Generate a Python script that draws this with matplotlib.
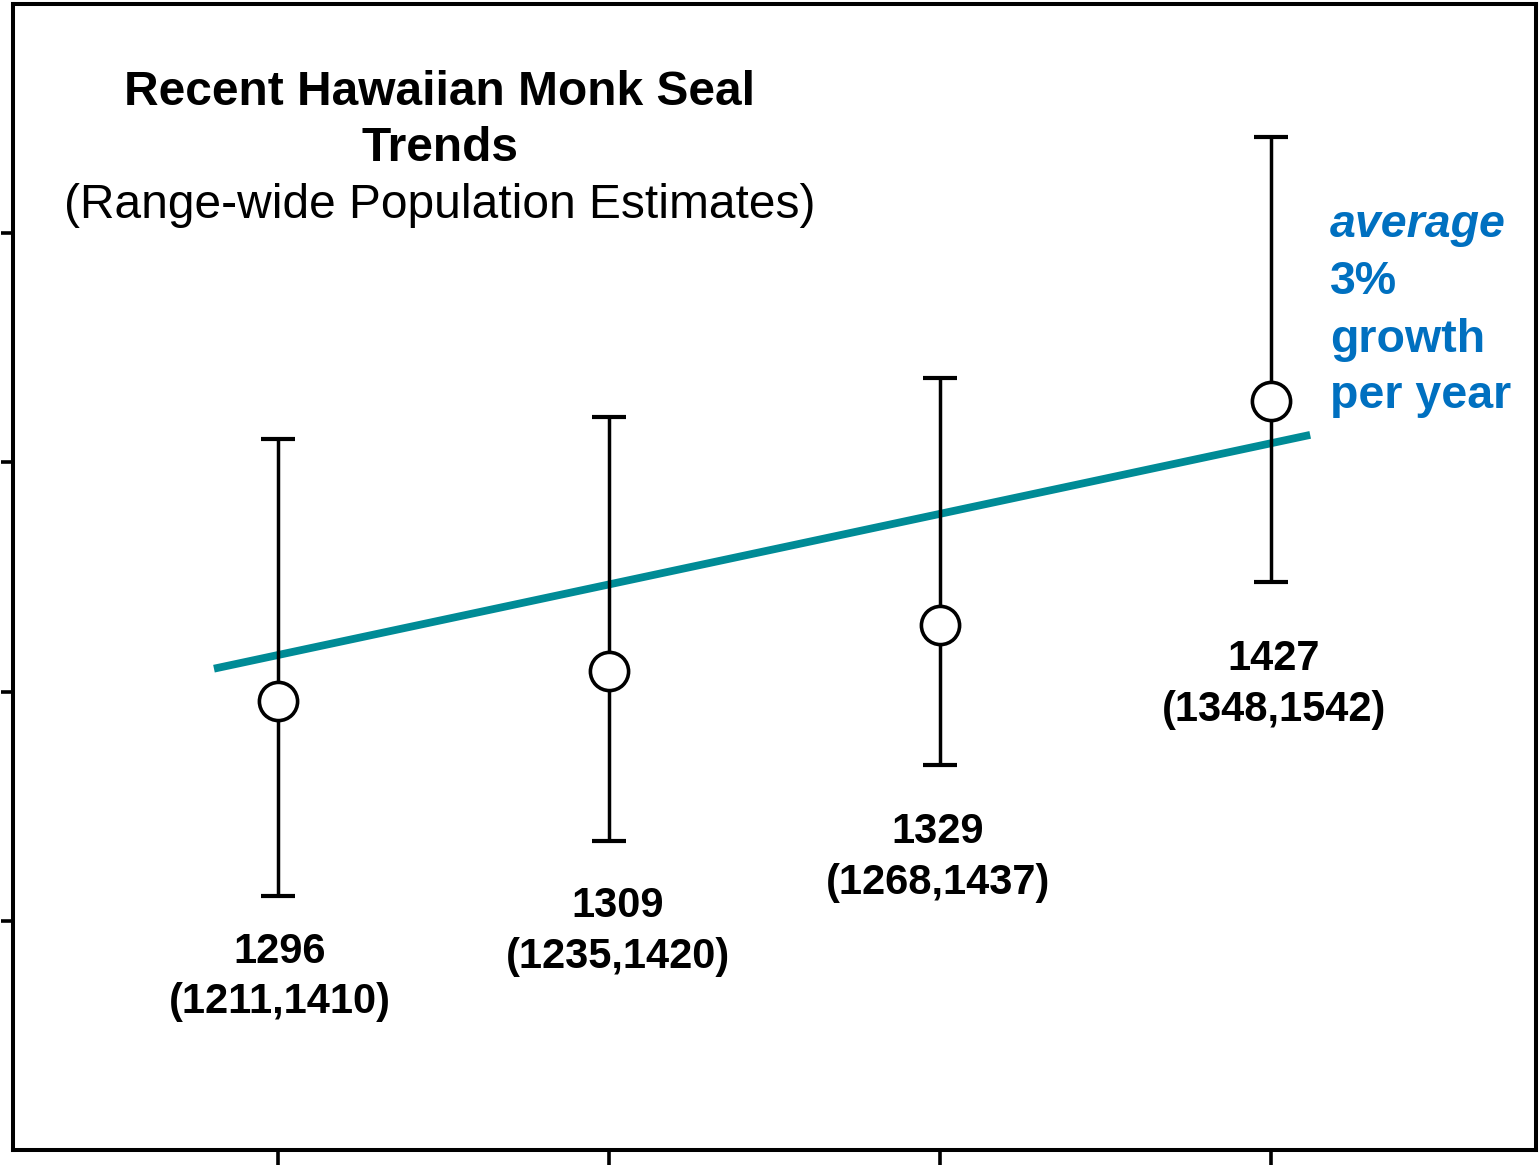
import numpy as np
import matplotlib
matplotlib.use("Agg")
import matplotlib.pyplot as plt

# population estimates with 95% intervals
estimate = [1296, 1309, 1329, 1427]
lower = [1211, 1235, 1268, 1348]
upper = [1410, 1420, 1437, 1542]

# fitted trend line (end points)
trend_x = [-0.193, 3.118]
trend_y = [1310, 1412]

# label placement
label_x = [0.006, 1.027, 1.994, 3.009]
label_y = [1175.5, 1195.5, 1227.5, 1303]

x = np.arange(len(estimate))
est = np.array(estimate)
yerr = [est - np.array(lower), np.array(upper) - est]

plt.rcParams['font.family'] = ['Liberation Sans', 'DejaVu Sans']

fig = plt.figure(figsize=(15.4, 11.72), dpi=100)
ax = fig.add_axes([13 / 1540, 22 / 1172, 1523 / 1540, 1146 / 1172])

ax.plot(trend_x, trend_y, '-', color='#008B96', lw=5.6, solid_capstyle='butt', zorder=2)
ax.errorbar(x, est, yerr=yerr, fmt='none', ecolor='black', elinewidth=2.5,
            capsize=12.5, capthick=3, zorder=3)
ax.plot(x, est, 'o', ms=27.5, mfc='white', mec='black', mew=2.6, zorder=4)

for i in range(len(estimate)):
    ax.text(label_x[i], label_y[i], "%d\n(%d,%d)" % (estimate[i], lower[i], upper[i]),
            ha='center', va='center', fontsize=30, fontweight='bold',
            linespacing=1.35, zorder=5)

ax.set_xlim(-0.8, 3.8)
ax.set_ylim(1100, 1600)
ax.set_xticks(x)
ax.set_yticks([1200, 1300, 1400, 1500])
ax.set_xticklabels([])
ax.set_yticklabels([])
ax.tick_params(axis='x', direction='out', length=11, width=2.6)
ax.tick_params(axis='y', direction='out', length=9, width=2.6)
for s in ax.spines.values():
    s.set_linewidth(2.9)

# title block
tx = (440 - 13) / 1523
ax.text(tx, (1150 - 105) / 1146, "Recent Hawaiian Monk Seal", transform=ax.transAxes,
        ha='center', va='baseline', fontsize=34.5, fontweight='bold')
ax.text(tx, (1150 - 161) / 1146, "Trends", transform=ax.transAxes,
        ha='center', va='baseline', fontsize=34.5, fontweight='bold')
ax.text(tx, (1150 - 218) / 1146, "(Range-wide Population Estimates)", transform=ax.transAxes,
        ha='center', va='baseline', fontsize=34.5)

# growth note
bx = (1330 - 13) / 1523
blue = '#0070C0'
ax.text(bx, (1150 - 237) / 1146, "average", transform=ax.transAxes, ha='left',
        va='baseline', fontsize=33.5, fontweight='bold', style='italic', color=blue)
for txt, yb in [("3%", 294), ("growth", 352), ("per year", 408)]:
    ax.text(bx, (1150 - yb) / 1146, txt, transform=ax.transAxes, ha='left',
            va='baseline', fontsize=33.5, fontweight='bold', color=blue)

fig.savefig("out.png", dpi=100)
